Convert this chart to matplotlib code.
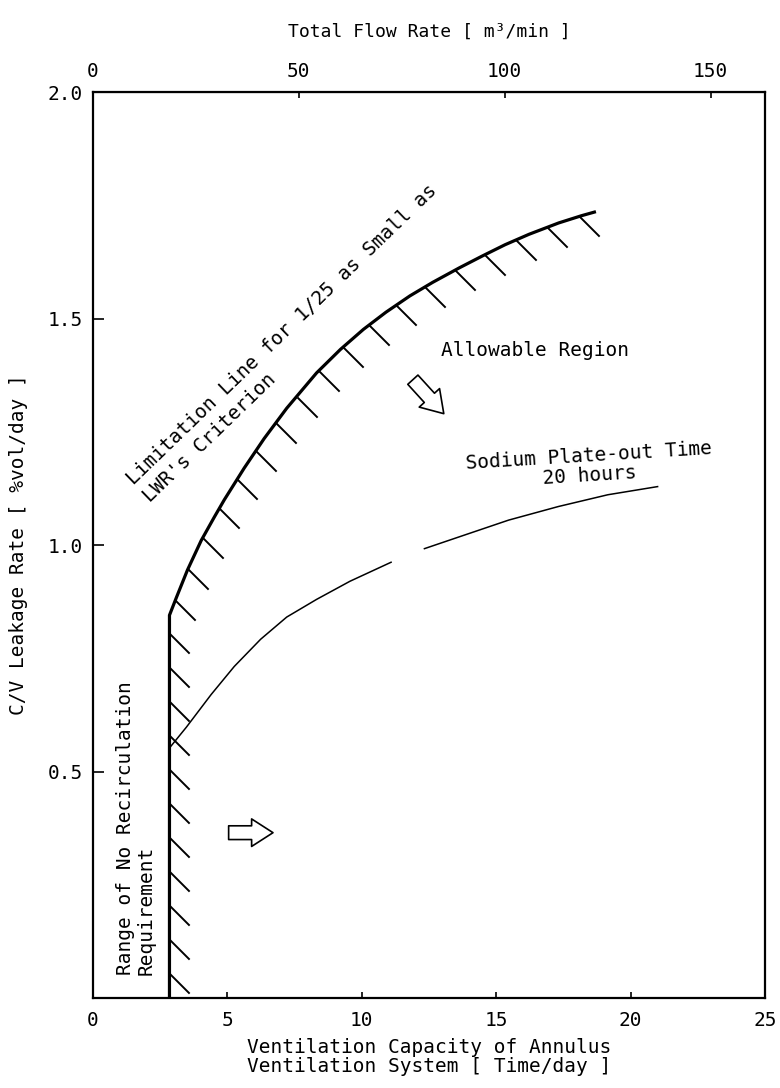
import numpy as np
import matplotlib
matplotlib.use('Agg')
import matplotlib.pyplot as plt
from matplotlib.path import Path

plt.rcParams['font.family'] = ['DejaVu Sans Mono', 'DejaVu Sans']
plt.rcParams['font.size'] = 14

# limitation line (1/25 of LWR criterion), thick hatched boundary
lim_x = [2.85, 2.85, 3.1, 3.52, 4.03, 4.52, 4.89, 5.26, 5.63, 6.37, 7.21, 8.32,
         9.21, 10.06, 10.9, 11.79, 12.64, 13.63, 14.48, 15.33, 16.22, 17.32, 18.17, 18.65]
lim_y = [0.0, 0.845, 0.883, 0.945, 1.010, 1.062, 1.100, 1.135, 1.170, 1.235, 1.302, 1.380,
         1.432, 1.476, 1.514, 1.550, 1.580, 1.612, 1.638, 1.663, 1.686, 1.711, 1.727, 1.735]

# sodium plate-out time 20 hours (gap is in the original scan)
na_x = [2.85, 3.48, 4.40, 5.26, 6.24, 7.21, 8.32, 9.56, 11.09, np.nan, 12.33, 13.62,
        15.46, 17.31, 19.15, 21.0]
na_y = [0.552, 0.598, 0.670, 0.732, 0.792, 0.841, 0.880, 0.920, 0.962, np.nan, 0.992,
        1.018, 1.055, 1.085, 1.111, 1.129]

x_ticks = [0, 5, 10, 15, 20, 25]
y_ticks = [0.5, 1.0, 1.5, 2.0]
flow_ticks = [0, 50, 100, 150]
flow_per_time = 6.53  # m3/min per (time/day)

fig = plt.figure(figsize=(7.8, 10.88), dpi=100)
ax = fig.add_axes([0.119, 0.0827, 0.862, 0.8327])
ax.set_xlim(0, 25)
ax.set_ylim(0, 2.0)

for s in ax.spines.values():
    s.set_linewidth(1.6)

ax.set_xticks(x_ticks)
ax.set_yticks(y_ticks)
ax.set_yticklabels([f'{v:.1f}' for v in y_ticks])
ax.tick_params(axis='x', direction='in', length=4, width=1.2, pad=9)
ax.tick_params(axis='y', direction='in', length=8, width=1.2, pad=7)

ax.set_xlabel('Ventilation Capacity of Annulus\nVentilation System [ Time/day ]',
              linespacing=1.0, labelpad=6)
ax.set_ylabel('C/V Leakage Rate [ %vol/day ]', labelpad=14)

top = ax.secondary_xaxis('top', functions=(lambda x: x * flow_per_time,
                                           lambda f: f / flow_per_time))
top.set_xticks(flow_ticks)
top.tick_params(direction='in', length=4, width=1.2, pad=8)
top.set_xlabel('Total Flow Rate [ m³/min ]', fontsize=13, labelpad=18)

# lines
ax.plot(lim_x, lim_y, color='black', lw=2.3, solid_joinstyle='round')
ax.plot(na_x, na_y, color='black', lw=1.1)

# hatch ticks along limitation line, evenly spaced in screen space
pts = ax.transData.transform(np.column_stack([lim_x, lim_y]))
seg = np.hypot(np.diff(pts[:, 0]), np.diff(pts[:, 1]))
cum = np.concatenate([[0], np.cumsum(seg)])
s_hatch = np.arange(25, cum[-1] - 8, 34)
hx_pix = np.interp(s_hatch, cum, pts[:, 0])
hy_pix = np.interp(s_hatch, cum, pts[:, 1])
hdata = ax.transData.inverted().transform(np.column_stack([hx_pix, hy_pix]))
hatch = Path([(0, 0), (1, -1)], [Path.MOVETO, Path.LINETO])
ax.plot(hdata[:, 0], hdata[:, 1], ls='none', marker=hatch, markersize=29,
        markeredgewidth=1.4, markeredgecolor='black')

# annotations
ax.text(7.35, 1.445, "Limitation Line for 1/25 as Small as\nLWR's Criterion",
        rotation=44, ha='center', va='center', multialignment='left', linespacing=1.3)
ax.text(12.95, 1.43, 'Allowable Region', ha='left', va='center')
ax.text(18.45, 1.175, 'Sodium Plate-out Time\n20 hours', rotation=3.5,
        ha='center', va='center', multialignment='center', linespacing=1.0)
ax.text(1.6, 0.05, 'Range of No Recirculation\nRequirement', rotation=90,
        ha='center', va='bottom', multialignment='left', linespacing=1.05)

arrow_style = 'simple,head_length=0.7,head_width=0.9,tail_width=0.45'
ax.annotate('', xy=(13.05, 1.29), xytext=(11.9, 1.365),
            arrowprops=dict(arrowstyle=arrow_style, fc='white', ec='black', lw=1.2,
                            mutation_scale=22, shrinkA=0, shrinkB=0))
ax.annotate('', xy=(6.7, 0.365), xytext=(5.05, 0.365),
            arrowprops=dict(arrowstyle=arrow_style, fc='white', ec='black', lw=1.2,
                            mutation_scale=22, shrinkA=0, shrinkB=0))

fig.savefig('out.png', dpi=100)
